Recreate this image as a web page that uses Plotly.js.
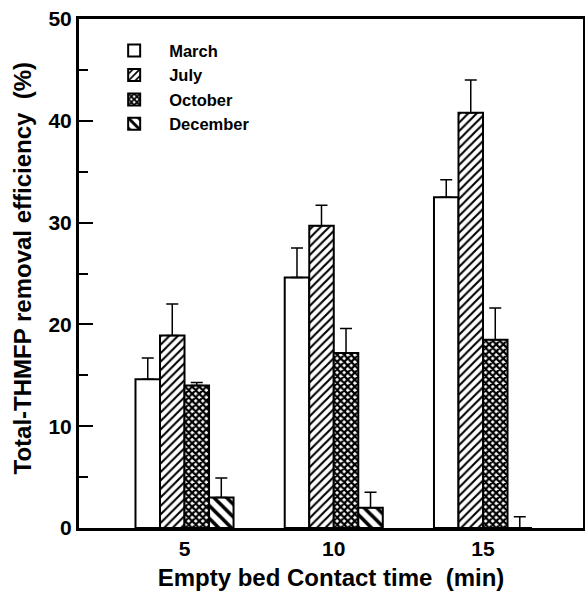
<!DOCTYPE html>
<html>
<head>
<meta charset="utf-8">
<script src="https://cdn.plot.ly/plotly-3.0.1.min.js"></script>
<style>html,body{margin:0;padding:0;background:#fff;}#chart{width:585px;height:596px;}</style>
</head>
<body>
<div id="chart"></div>
<script>
// Data
var categories = ['5', '10', '15'];
var seriesNames = ['March', 'July', 'October', 'December'];
var march = [14.6, 24.6, 32.5];
var july = [18.9, 29.7, 40.8];
var october = [14.0, 17.2, 18.5];
var december = [3.0, 2.0, 0.0];
var marchErr = [2.1, 2.9, 1.7];
var julyErr = [3.1, 2.0, 3.2];
var octoberErr = [0.3, 2.4, 3.1];
var decemberErr = [1.9, 1.5, 1.1];
var zeros = [0, 0, 0];
var xTitle = 'Empty bed Contact time  (min)';
var yTitle = 'Total-THMFP removal efficiency  (%)';

var FONT = 'Liberation Sans, Arial, sans-serif';
var values = [march, july, october, december];
var errs = [marchErr, julyErr, octoberErr, decemberErr];
var patterns = [
  {shape: '', fgcolor: 'black', bgcolor: 'white'},
  {shape: '/', fgcolor: 'black', bgcolor: 'white', size: 6, solidity: 0.35},
  {shape: 'x', fgcolor: 'black', bgcolor: 'white', size: 5, solidity: 0.7},
  {shape: '\\', fgcolor: 'black', bgcolor: 'white', size: 9, solidity: 0.4}
];

var traces = seriesNames.map(function (name, i) {
  return {
    type: 'bar',
    name: name,
    x: categories,
    y: values[i],
    marker: {color: 'white', line: {color: 'black', width: 2}, pattern: patterns[i]},
    error_y: {type: 'data', symmetric: false, array: errs[i], arrayminus: zeros,
              color: 'black', thickness: 1.5, width: 6}
  };
});

var layout = {
  width: 585, height: 596,
  margin: {l: 79, r: 2, t: 19, b: 68},
  paper_bgcolor: 'white', plot_bgcolor: 'white',
  font: {family: FONT, color: 'black', size: 21, weight: 'bold'},
  barmode: 'group', bargap: 0.343, bargroupgap: 0,
  showlegend: true,
  legend: {x: 0.04, y: 0.972, xanchor: 'left', yanchor: 'top', bgcolor: 'rgba(0,0,0,0)',
           itemwidth: 60,
           font: {family: FONT, size: 16.5, weight: 'bold', color: 'black'}, tracegroupgap: 0},
  xaxis: {
    type: 'category', range: [-0.707, 2.67],
    showline: true, linecolor: 'black', linewidth: 3, mirror: true,
    ticks: '', showgrid: false, zeroline: false,
    tickfont: {family: FONT, size: 21, weight: 'bold'},
    title: {text: xTitle, font: {family: FONT, size: 24, weight: 'bold'}, standoff: 10}
  },
  yaxis: {
    range: [0, 50], dtick: 10, tick0: 0,
    showline: true, linecolor: 'black', linewidth: 3, mirror: true,
    ticks: 'inside', ticklen: 14, tickwidth: 2, tickcolor: 'black',
    minor: {dtick: 5, tick0: 0, ticks: 'inside', ticklen: 9, tickwidth: 2, tickcolor: 'black', showgrid: false},
    showgrid: false, zeroline: false,
    tickfont: {family: FONT, size: 21, weight: 'bold'}
  },
  yaxis2: {
    overlaying: 'y', side: 'right', range: [0, 50], dtick: 5, tick0: 0,
    ticks: 'inside', ticklen: 6, tickwidth: 2, tickcolor: 'black',
    showticklabels: false, showgrid: false, zeroline: false, showline: false
  },
  annotations: [{
    text: yTitle, xref: 'paper', yref: 'paper', x: -0.113, y: 0.51,
    xanchor: 'center', yanchor: 'middle', textangle: -90, showarrow: false,
    font: {family: FONT, size: 24, weight: 'bold', color: 'black'}
  }]
};

Plotly.newPlot('chart', traces, layout, {displayModeBar: false, staticPlot: true});
</script>
</body>
</html>
